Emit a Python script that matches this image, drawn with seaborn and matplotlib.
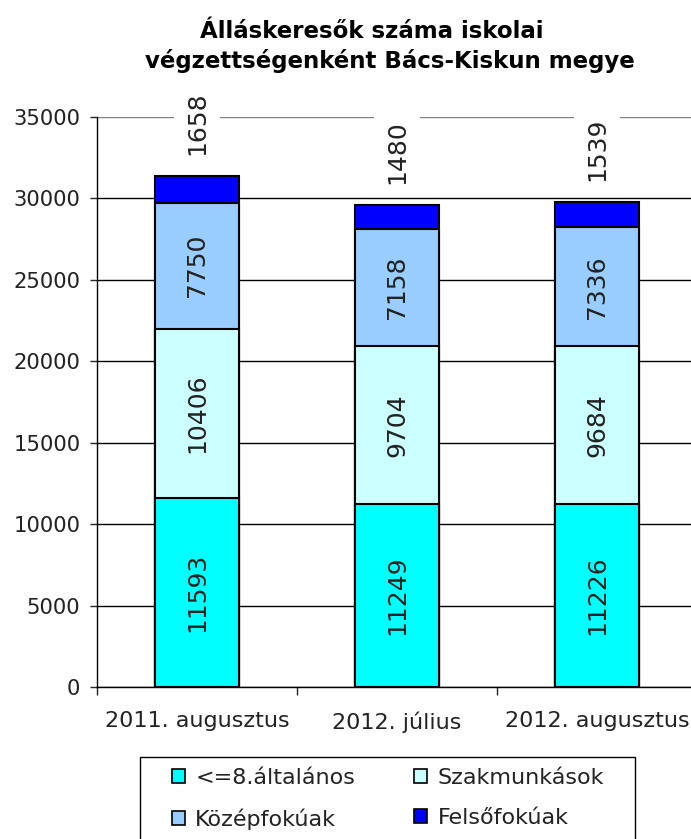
import matplotlib
matplotlib.use("Agg")
import matplotlib.pyplot as plt
import seaborn as sns
import pandas as pd
import numpy as np
from matplotlib.patches import Patch, Rectangle

# adatok
honapok = ["2011. augusztus", "2012. július", "2012. augusztus"]
kategoriak = ["<=8.általános", "Szakmunkások", "Középfokúak", "Felsőfokúak"]
altalanos = [11593, 11249, 11226]
szakmunkas = [10406, 9704, 9684]
kozepfoku = [7750, 7158, 7336]
felsofoku = [1658, 1480, 1539]
szinek = ["#00FFFF", "#CCFFFF", "#99CCFF", "#0000FF"]
cim_sorok = ["Álláskeresők száma iskolai", "végzettségenként Bács-Kiskun megye"]

df = pd.DataFrame({
    "honap": honapok,
    kategoriak[0]: altalanos,
    kategoriak[1]: szakmunkas,
    kategoriak[2]: kozepfoku,
    kategoriak[3]: felsofoku,
})
kum = df[kategoriak].cumsum(axis=1)

sns.set_style("white")
plt.rcParams["font.family"] = ["DejaVu Sans"]

fig = plt.figure(figsize=(6.91, 8.39), dpi=100)
ax = fig.add_axes([97 / 691, 152 / 839, 600 / 691, 570 / 839])

# egymásra rakott oszlopok: a legmagasabb összeggel kezdve
for i in range(len(kategoriak) - 1, -1, -1):
    sns.barplot(x=df["honap"], y=kum[kategoriak[i]], color=szinek[i],
                width=0.42, edgecolor="black", linewidth=1.5, ax=ax,
                saturation=1, zorder=2)

# értékek a szegmensek közepén
for j in range(len(honapok)):
    for i in range(3):
        also = kum[kategoriak[i]][j] - df[kategoriak[i]][j]
        ax.text(j, also + df[kategoriak[i]][j] / 2, str(df[kategoriak[i]][j]),
                rotation=90, ha="center", va="center", fontsize=18,
                color="#222222", zorder=3)
    ax.annotate(str(df[kategoriak[3]][j]), (j, kum[kategoriak[3]][j]),
                xytext=(0, 15), textcoords="offset points", rotation=90,
                ha="center", va="bottom", fontsize=18, color="#222222",
                bbox=dict(facecolor="white", edgecolor="none", pad=8),
                annotation_clip=False, zorder=3)

ax.set_ylim(0, 35000)
ax.set_xlim(-0.5, 2.5)
ax.set_yticks(np.arange(0, 35001, 5000))
ax.yaxis.grid(True, color="black", linewidth=1)
ax.get_ygridlines()[-1].set_color("#808080")
ax.set_axisbelow(True)
ax.set_xlabel("")
ax.set_ylabel("")
for s in ["top", "right"]:
    ax.spines[s].set_visible(False)
for s in ["left", "bottom"]:
    ax.spines[s].set_color("black")
    ax.spines[s].set_linewidth(1)

ax.tick_params(axis="y", which="major", left=True, length=5, width=1,
               labelsize=15.2, labelcolor="#222222", pad=7)
ax.tick_params(axis="x", which="major", bottom=False, labelsize=16,
               labelcolor="#222222", pad=14)
ax.set_xticks([-0.5, 0.5, 1.5, 2.5], minor=True)
ax.tick_params(axis="x", which="minor", bottom=True, length=6, width=1)

# cím két sorban
fig.text(372 / 691, 1 - 38 / 839, cim_sorok[0], ha="center", va="baseline",
         fontsize=16.5, fontweight="bold", color="black")
fig.text(390 / 691, 1 - 68 / 839, cim_sorok[1], ha="center", va="baseline",
         fontsize=16.5, fontweight="bold", color="black")

# jelmagyarázat keretje (alul kilóg a képből)
fig.add_artist(Rectangle((140 / 691, -0.05), 495 / 691, 0.05 + (839 - 757) / 839,
                         transform=fig.transFigure, facecolor="white",
                         edgecolor="black", linewidth=1, zorder=1))

sorrend = [0, 2, 1, 3]  # soronként töltse ki
kezelok = [Patch(facecolor=szinek[k], edgecolor="black", linewidth=1.2) for k in sorrend]
leg = fig.legend(kezelok, [kategoriak[k] for k in sorrend], loc="upper left",
                 bbox_to_anchor=(172 / 691, 1 - 768 / 839, (604 - 172) / 691, 0.0),
                 mode="expand", ncol=2, fontsize=16, frameon=False,
                 handlelength=0.6, handleheight=0.6, handletextpad=0.45,
                 labelspacing=0.9, borderpad=0, borderaxespad=0,
                 labelcolor="#222222")
leg.set_zorder(2)

fig.savefig("out.png", dpi=100)
